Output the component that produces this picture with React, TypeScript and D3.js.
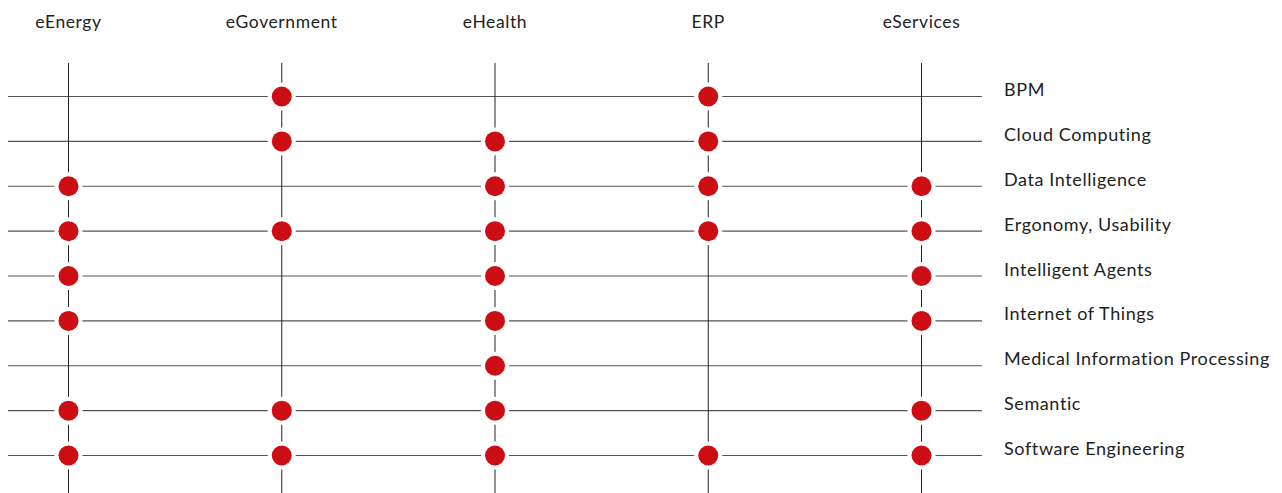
import React from "react";
import * as d3 from "d3";

const columns = ["eEnergy", "eGovernment", "eHealth", "ERP", "eServices"];
const rows = [
  "BPM",
  "Cloud Computing",
  "Data Intelligence",
  "Ergonomy, Usability",
  "Intelligent Agents",
  "Internet of Things",
  "Medical Information Processing",
  "Semantic",
  "Software Engineering",
];
// membership per row (1 = dot present) in column order
const matrix = [
  [0, 1, 0, 1, 0],
  [0, 1, 1, 1, 0],
  [1, 0, 1, 1, 1],
  [1, 1, 1, 1, 1],
  [1, 0, 1, 0, 1],
  [1, 0, 1, 0, 1],
  [0, 0, 1, 0, 0],
  [1, 1, 1, 0, 1],
  [1, 1, 1, 1, 1],
];

const W = 1282;
const H = 493;

export default function App() {
  const x = d3.scalePoint<string>().domain(columns).range([68.5, 921.5]);
  const y = d3.scalePoint<string>().domain(rows).range([96.5, 455.5]);
  const font = "Lato, 'Noto Sans', sans-serif";
  const dots: { r: string; c: string }[] = [];
  rows.forEach((r, i) =>
    columns.forEach((c, j) => {
      if (matrix[i][j]) dots.push({ r, c });
    })
  );
  return (
    <svg
      width={W}
      height={H}
      style={{ position: "absolute", left: 0, top: 0, background: "#fff" }}
    >
      {rows.map((r) => (
        <line key={"h" + r} x1={8} x2={982} y1={y(r)} y2={y(r)} stroke="#555" strokeWidth={1.2} />
      ))}
      {columns.map((c) => (
        <line key={"v" + c} x1={x(c)} x2={x(c)} y1={63} y2={H} stroke="#222" strokeWidth={1} />
      ))}
      {dots.map((d) => (
        <g key={d.r + d.c} transform={`translate(${x(d.c)},${y(d.r)})`}>
          <circle r={14} fill="#fff" />
          <circle r={10} fill="#cc0e14" />
        </g>
      ))}
      {columns.map((c) => (
        <text
          key={"t" + c}
          x={x(c)}
          y={28}
          textAnchor="middle"
          fontFamily={font}
          fontSize={17.5}
          letterSpacing={0.6}
          fill="#222"
        >
          {c}
        </text>
      ))}
      {rows.map((r) => (
        <text
          key={"l" + r}
          x={1004}
          y={(y(r) as number) - 0.5}
          fontFamily={font}
          fontSize={18}
          letterSpacing={0.6}
          fill="#222"
        >
          {r}
        </text>
      ))}
    </svg>
  );
}
